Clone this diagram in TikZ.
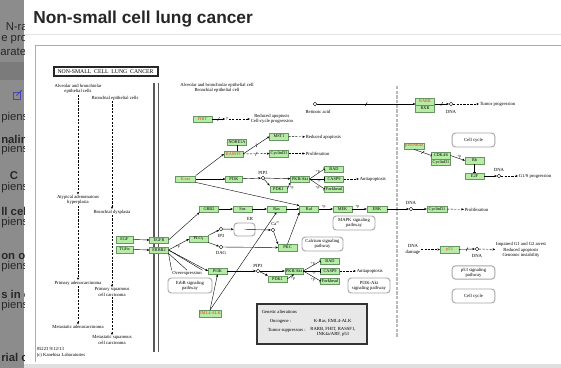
\documentclass[tikz,border=0pt]{standalone}
\usepackage{fontspec}
\setmainfont{Liberation Serif}
\newfontfamily\uifont{Liberation Sans}
\usetikzlibrary{shapes}
\usetikzlibrary{positioning}
\usetikzlibrary{arrows.meta}
\usetikzlibrary{decorations.markings}
\definecolor{keggreen}{RGB}{182,236,166}
\definecolor{keggedge}{RGB}{104,150,98}
\definecolor{keggred}{RGB}{232,54,30}
\definecolor{veil}{RGB}{140,140,140}
\definecolor{veilink}{RGB}{40,40,40}
\newcommand{\kegfont}{\fontsize{3.5}{3.9}\selectfont}
\newcommand{\genefont}{\fontsize{3.2}{3.5}\selectfont}
\newcommand{\phosfont}{\fontsize{2.9}{3}\selectfont}

\begin{document}
\begin{tikzpicture}[x=0.75pt,y=-0.75pt,
    gene/.style={draw=keggedge,fill=keggreen,line width=0.3pt,inner sep=0.3pt,minimum width=14pt,minimum height=4.8pt,font=\genefont},
    onco/.style={gene,text=keggred},
    cpd/.style={circle,draw,fill=white,line width=0.3pt,inner sep=0pt,minimum size=2.8pt},
    lbl/.style={font=\kegfont,inner sep=0.4pt,align=center},
    phos/.style={font=\phosfont,inner sep=0.2pt},
    pmap/.style={draw=gray!70,line width=0.7pt,rounded corners=2.5pt,fill=white,font=\kegfont,align=center,inner sep=0pt},
    act/.style={-{Stealth[length=2pt,width=1.7pt]},line width=0.3pt},
    ind/.style={act,dash pattern=on 1.6pt off 1pt},
    inh/.style={-{Bar[width=2.6pt]},line width=0.3pt},
    link/.style={line width=0.3pt},
    slashed/.style={postaction={decorate,decoration={markings,mark=at position #1 with {\draw[-,solid,line width=0.3pt] (-0.7pt,-1.3pt) -- (0.7pt,1.3pt);}}}},
    slashed/.default=0.5,
    strip/.style={font=\uifont\fontsize{8.5}{9}\selectfont,text=veilink,inner sep=0pt,anchor=west},
    stripbold/.style={strip,font=\uifont\bfseries\fontsize{8.5}{9}\selectfont}]

    \useasboundingbox (0,0) rectangle (561,368);
    \fill[white] (0,0) rectangle (561,368);

    \fill[veil] (0,0) rectangle (24,368);
    \fill[veil!88!black] (0,62) rectangle (24,80);
    \begin{scope}
        \clip (0,0) rectangle (24,368);
        \node[strip] (s1) at (5.5,27) {N-ras};
        \node[strip] (s2) at (1,40) {e pro};
        \node[strip] (s3) at (0,52) {arate};
        \node[strip] (s4) at (1,118) {piens};
        \node[stripbold] (s5) at (1,139) {naline};
        \node[strip] (s6) at (1,150) {piens};
        \node[stripbold] (s7) at (9.5,176) {C};
        \node[strip] (s8) at (1,188) {piens};
        \node[stripbold] (s9) at (1,211) {ll cell};
        \node[strip] (s10) at (1,223) {piens};
        \node[stripbold] (s11) at (1,255) {on of};
        \node[strip] (s12) at (1,267) {piens};
        \node[stripbold] (s13) at (1,294) {s in ca};
        \node[strip] (s14) at (1,306) {piens};
        \node[stripbold] (s15) at (1,357) {rial c};
        \draw[blue!45!gray,line width=0.6pt] (13,92) rectangle (20,99);
        \draw[blue!45!gray,line width=0.6pt,-{Stealth[length=2pt]}] (16.5,95.5) -- (22,90);
    \end{scope}

    \node[anchor=base west,inner sep=0pt,text=black!85,font=\uifont\bfseries\fontsize{13}{15}\selectfont] (head) at (33,23.5) {Non-small cell lung cancer};
    \draw[gray!22,line width=0.6pt] (24,34) -- (561,34);
    \draw[gray!65,line width=0.6pt] (35,362) -- (35,45) -- (575,45);
    \fill[gray!25] (24,364) rectangle (561,368);

    \node[draw=black!85,line width=0.35pt,minimum width=79pt,minimum height=7.5pt,inner sep=0pt,font=\fontsize{4.3}{4.3}\selectfont] (ttl) at (105.5,71.5) {NON-SMALL\ \ CELL\ \ LUNG\ \ CANCER};
    \draw[black!85,line width=0.6pt] ([shift={(1.3,1.3)}]ttl.north west) rectangle ([shift={(-1.3,-1.3)}]ttl.south east);

    \draw[gray!70!black,line width=0.9pt] (154,83) -- (154,352) (158.5,83) -- (158.5,352);
    \draw[gray!55,line width=1.6pt,dash pattern=on 2.5pt off 1pt] (397,86) -- (397,338);

    \node[lbl] (alv) at (78,89) {Alveolar and bronchiolar\\epithelial cells};
    \node[lbl] (bro) at (115,98) {Bronchial epithelial cells};
    \node[lbl] (aah) at (78,200) {Atypical adenomatous\\hyperplasia};
    \node[lbl] (dys) at (112,212) {Bronchial dysplasia};
    \node[lbl] (adc) at (78,283) {Primary adenocarcinoma};
    \node[lbl] (sqc) at (112,292) {Primary squamous\\cell carcinoma};
    \node[lbl] (madc) at (78,327) {Metastatic adenocarcinoma};
    \node[lbl] (msqc) at (112,340) {Metastatic squamous\\cell carcinoma};
    \node[lbl,align=left,anchor=north west] (stamp) at (36,347) {05223 9/12/13\\(c) Kanehisa Laboratories};

    \draw[ind] (alv) -- (aah);
    \draw[ind] (aah) -- (adc);
    \draw[ind] (adc) -- (madc);
    \draw[ind] (bro.south -| dys.north) -- (dys);
    \draw[ind] (dys) -- (sqc);
    \draw[ind] (sqc) -- (msqc);

    \node[gene,minimum width=12.8pt] (egf) at (124.5,239.5) {EGF};
    \node[gene,minimum width=12.8pt] (tgfa) at (124.5,249.5) {TGFα};
    \node[gene] (egfr) at (159,240) {EGFR};
    \node[gene] (erbb2) at (159,250) {ERBB2};

    \node[lbl] (cellB) at (217,88) {Alveolar and bronchiolar epithelial cell\\Bronchial epithelial cell};
    \node[onco] (fhit) at (202.5,119) {FHIT};
    \node[lbl] (qm) at (227,119) {?};
    \node[lbl,anchor=west] (fhitout) at (250,119) {Reduced apoptosis\\Cell-cycle progression};
    \node[gene] (nore) at (237,142) {NORE1A};
    \node[onco] (rassf) at (233.5,154) {RASSF1};
    \node[gene] (mst) at (279,136.5) {MST1};
    \node[gene] (ccnda) at (279,153.5) {CyclinD1};
    \node[lbl,anchor=west] (apoA) at (305,137) {Reduced apoptosis};
    \node[lbl,anchor=west] (prolA) at (305,153.5) {Proliferation};

    \node[onco,minimum width=15pt] (kras) at (185.5,179) {K-ras};
    \node[gene,minimum width=12.5pt] (pikA) at (234,179) {PI3K};
    \node[cpd] (pipA) at (263,178) {};
    \node[lbl] (pipAl) at (263,172.5) {PIP3};
    \node[gene] (aktA) at (300,179) {PKB/Akt};
    \node[gene,minimum width=13pt] (pdkA) at (278.5,189) {PDK1};
    \node[gene] (badA) at (334,169) {BAD};
    \node[gene] (caspA) at (334,179) {CASP9};
    \node[gene] (foxA) at (334,189) {Forkhead};
    \node[lbl,anchor=west] (antiA) at (359,179) {Antiapoptosis};

    \node[cpd] (ra) at (315,104) {};
    \node[lbl] (ral) at (318,112) {Retinoic acid};
    \node[onco,minimum height=5.25pt] (rarb) at (425,101.5) {RARB};
    \node[gene,minimum height=5.25pt] (rxr) at (425,108.5) {RXR};
    \node[cpd] (dnaA) at (451,104) {};
    \node[lbl] (dnaAl) at (451,112) {DNA};
    \node[lbl,anchor=west] (tumor) at (479,104) {Tumor progression};

    \node[pmap,minimum width=32pt,minimum height=10.5pt] (cc1) at (473.5,140) {Cell cycle};
    \node[onco,minimum width=15pt] (p16) at (414,146) {p16INK4a};
    \node[gene,minimum height=4.9pt] (cdk) at (441,155.5) {CDK4/6};
    \node[gene,minimum height=4.9pt] (ccndB) at (441,162) {CyclinD1};
    \node[gene] (rb) at (474.5,160.5) {Rb};
    \node[gene] (e2f) at (474.5,176) {E2F};
    \node[cpd] (dnaB) at (499,176) {};
    \node[lbl] (dnaBl) at (499,170) {DNA};
    \node[lbl,anchor=west] (g1s) at (518,176) {G1/S progression};

    \node[gene] (grb) at (209,209) {GRB2};
    \node[gene] (sos) at (242.5,209) {Sos};
    \node[gene] (ras) at (276.5,209) {Ras};
    \node[gene] (raf) at (309,209) {Raf};
    \node[gene] (mek) at (342.5,209) {MEK};
    \node[gene,minimum width=15pt] (erk) at (377,209) {ERK};
    \node[cpd] (dnaC) at (411,209) {};
    \node[lbl] (dnaCl) at (411,203) {DNA};
    \node[gene,minimum width=15pt] (ccndC) at (437,209) {CyclinD1};
    \node[lbl,anchor=west] (prolC) at (464,209.5) {Proliferation};
    \node[pmap,minimum width=31.5pt,minimum height=10.5pt] (mapk) at (354,223) {MAPK signaling\\pathway};

    \node[gene] (plc) at (198.5,239) {PLCγ};
    \node[cpd] (ip3) at (221,229) {};
    \node[lbl] (ip3l) at (221,236) {IP3};
    \node[cpd] (dag) at (221,247) {};
    \node[lbl] (dagl) at (221,253) {DAG};
    \node[draw=gray!70,line width=0.7pt,rounded corners=2.5pt,minimum width=15.75pt,minimum height=9.75pt,inner sep=0pt] (er) at (244.5,229.5) {};
    \node[lbl] (erl) at (250,219) {ER};
    \node[cpd] (ca) at (273,230) {};
    \node[lbl] (cal) at (275.5,223.5) {Ca\raisebox{0.9pt}{\fontsize{2.3}{2.3}\selectfont 2+}};
    \node[gene] (pkc) at (287.5,247.5) {PKC};
    \node[pmap,minimum width=30.75pt,minimum height=10.5pt] (calc) at (322.5,244) {Calcium signaling\\pathway};

    \node[lbl] (overx) at (187,273) {Overexpression};
    \node[pmap,minimum width=33pt,minimum height=11.25pt] (erbb) at (190,285.5) {ErbB signaling\\pathway};
    \node[gene] (pikB) at (217.5,271) {PI3K};
    \node[cpd] (pipB) at (258,271) {};
    \node[lbl] (pipBl) at (258,265.5) {PIP3};
    \node[gene,minimum width=13.5pt] (aktB) at (294,271) {PKB/Akt};
    \node[gene] (pdkB) at (277.5,279) {PDK1};
    \node[gene] (badB) at (330,261) {BAD};
    \node[gene] (caspB) at (330,271) {CASP9};
    \node[gene] (foxB) at (330,281) {Forkhead};
    \node[lbl,anchor=west] (antiB) at (356,271) {Antiapoptosis};
    \node[pmap,minimum width=31.5pt,minimum height=11.25pt] (pi3k) at (369,285.5) {PI3K-Akt\\signaling pathway};

    \node[lbl] (dmg) at (413,249.5) {DNA\\damage};
    \node[onco] (p53) at (449.5,249.5) {p53};
    \node[cpd] (dnaD) at (477,249) {};
    \node[lbl] (dnaDl) at (477,256) {DNA};
    \node[lbl] (impair) at (521,250) {Impaired G1 and G2 arrest\\Reduced apoptosis\\Genomic instability};
    \node[pmap,minimum width=32pt,minimum height=10pt] (p53p) at (473.5,272.5) {p53 signaling\\pathway};
    \node[pmap,minimum width=32pt,minimum height=10.5pt] (cc2) at (473.5,296) {Cell cycle};

    \node[onco,minimum width=15pt] (eml) at (210,313.5) {EML4-ALK};

    \node[draw=black!80,line width=1pt,fill=gray!18,minimum width=82.5pt,minimum height=30pt,inner sep=0pt] (gen) at (312,324) {};
    \node[lbl,anchor=west] (genh) at (261,312) {Genetic alterations};
    \node[lbl,anchor=west] (onc) at (269,321) {Oncogene :};
    \node[lbl,anchor=west] (oncv) at (313,321) {K-Ras, EML4-ALK};
    \node[lbl,anchor=west] (tsg) at (267,330) {Tumor suppressors :};
    \node[lbl] (tsgv) at (333,332) {RARB, FHIT, RASSF1,\\INK4a/ARF, p53};

    \draw[act] (egf.east) -- (egfr.west);
    \draw[act] (tgfa.east) -- (erbb2.west);
    \draw[act] (egfr.east) -- (grb.south west);
    \draw[act] (erbb2.east) -- node[phos,below,pos=0.45] {+p} (plc.west);
    \draw[act] (erbb2.east) -- (pikB.west);
    \draw[link] (erbb2.south east) -- (overx.north west);
    \draw[link] (erbb2.south east) -- (overx.north);
    \draw[link] (erbb2.east) -- (overx.north east);

    \draw[act,slashed] (fhit) -- (qm);
    \draw[ind] (qm) -- (fhitout);
    \draw[link] (nore.south) -- (nore.south |- rassf.north);
    \draw[act] (kras.north east) -- (rassf.west);
    \draw[act,slashed] (rassf.east) -- (mst.west);
    \draw[ind,slashed] (rassf) -- (ccnda);
    \draw[ind] (mst) -- (apoA);
    \draw[ind] (ccnda) -- (prolA);

    \draw[act] (kras) -- (pikA);
    \draw[act] (kras.south east) -- (raf.north west);
    \draw[act] (pikA) -- (pipA);
    \draw[act] (pipA) -- (aktA);
    \draw[act] (pipA) -- (pdkA.north west);
    \draw[act] (pdkA.east) -- node[phos,below right] {+p} (aktA.south west);
    \draw[inh] (aktA.east) -- node[phos,above,pos=0.55] {+p} (badA.west);
    \draw[inh] (aktA.east) -- node[phos,below,pos=0.6] {+p} (caspA.west);
    \draw[inh] (aktA.east) -- node[phos,below left,pos=0.7] {+p} (foxA.west);
    \draw[ind] (caspA) -- (antiA);

    \draw[act,slashed] (ra) -- (ra -| rarb.west);
    \draw[act,slashed] (dnaA -| rarb.east) -- (dnaA);
    \draw[ind] (dnaA) -- (tumor);

    \draw[inh,slashed] (p16.south) -- (cdk.west);
    \draw[act] (cdk.east) -- node[phos,above,pos=0.6] {+p} (rb.west);
    \draw[inh] (rb) -- (e2f);
    \draw[act] (e2f) -- (dnaB);
    \draw[ind] (dnaB) -- (g1s);

    \draw[act] (grb) -- (sos);
    \draw[act] (sos) -- (ras);
    \draw[act] (ras) -- (raf);
    \draw[act] (raf) -- node[phos,above,pos=0.35] {+p} (mek);
    \draw[act] (mek) -- node[phos,above,pos=0.35] {+p} (erk);
    \draw[act] (erk) -- (dnaC);
    \draw[act] (dnaC) -- (ccndC);
    \draw[ind] (ccndC) -- (prolC);

    \draw[act] (plc.north east) -- (ip3);
    \draw[act] (plc.south east) -- (dag);
    \draw[act] (ip3) -- (er);
    \draw[act] (er.center) -- (ca);
    \draw[act] (ca) -- (pkc.north west);
    \draw[act] (dag) -- (pkc.west);
    \draw[act] (pkc.north) -- (raf.south west);

    \draw[act] (eml.north) -- (ras.south);
    \draw[act] (eml.north) -- (pikB.south);
    \draw[act] (pikB) -- (pipB);
    \draw[act] (pipB) -- (aktB);
    \draw[act] (pipB) -- (pdkB.north west);
    \draw[act] (pdkB.east) -- node[phos,below right] {+p} (aktB.south);
    \draw[inh] (aktB.east) -- node[phos,above,pos=0.55] {+p} (badB.west);
    \draw[inh] (aktB.east) -- node[phos,below,pos=0.6] {+p} (caspB.west);
    \draw[inh] (aktB.east) -- node[phos,below left,pos=0.7] {+p} (foxB.west);
    \draw[ind] (caspB) -- (antiB);

    \draw[ind] (dmg) -- (p53);
    \draw[act,slashed] (p53) -- (dnaD);
    \draw[ind] (dnaD) -- (impair);
\end{tikzpicture}
\end{document}
